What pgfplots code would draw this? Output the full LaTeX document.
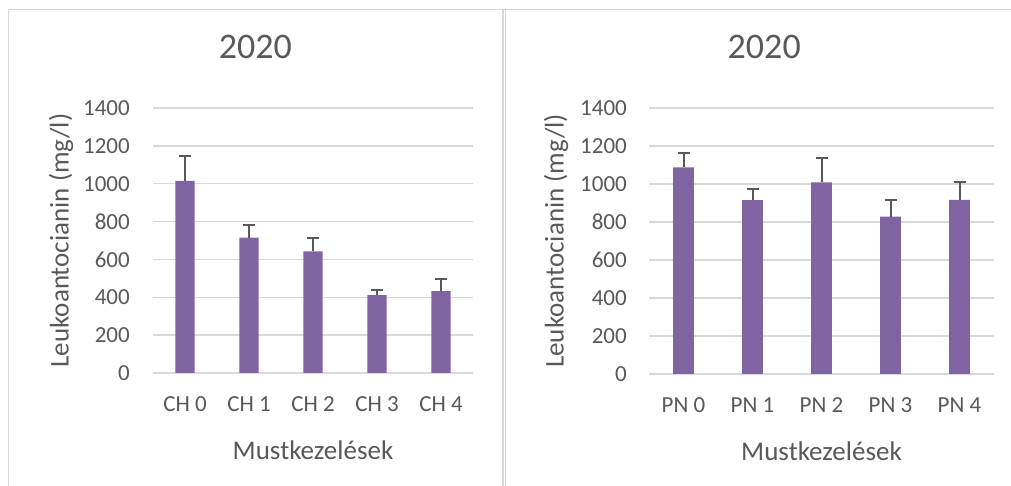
\documentclass[border=0pt]{standalone}
\usepackage{pgfplots}
\pgfplotsset{compat=1.18}
\usepackage{pgfplotstable}
\usepackage{fontspec}
\setmainfont{Carlito}
\definecolor{barpurple}{HTML}{8064A2}
\definecolor{txt}{HTML}{595959}
\definecolor{grd}{HTML}{D9D9D9}
\definecolor{errc}{HTML}{595959}

\pgfplotstableread{
x y e
0 1015 134
1 715 67
2 643 72
3 411 30
4 432 66
}\chdata
\pgfplotstableread{
x y e
0 1088 75
1 915 60
2 1008 129
3 828 86
4 917 93
}\pndata

\pgfplotsset{
 mystyle/.style={
  scale only axis, anchor=south west,
  xmin=-0.5, xmax=4.5, ymin=0, ymax=1400,
  ytick={0,200,...,1400},
  xtick={0,...,4},
  axis line style={draw=none},
  major tick length=0pt,
  ymajorgrids, grid style={grd, line width=1.3bp},
  tick label style={font=\fontsize{23bp}{27bp}\selectfont, text=txt, inner sep=0pt},
  yticklabel style={anchor=east, xshift=-23bp},
  xticklabel style={anchor=base, yshift=-39bp},
  /pgf/number format/assume math mode=true,
  /pgf/number format/1000 sep={},
  label style={font=\fontsize{27bp}{31bp}\selectfont, text=txt, inner sep=0pt},
  xlabel={Mustkezelések},
  ylabel={Leukoantocianin (mg/l)},
  xlabel style={at={([yshift=-86bp]axis description cs:0.5,0)}, anchor=base},
  ylabel style={at={([xshift=-92bp]axis description cs:0,0.5)}, anchor=center},
  title={2020},
  title style={font=\fontsize{36bp}{41bp}\selectfont, text=txt, inner sep=0pt, anchor=base},
  ybar, bar width=0.3,
 },
 mybars/.style={fill=barpurple, draw=none,
  error bars/.cd, y dir=plus, y explicit,
  error bar style={errc, line width=2bp},
  error mark options={errc, line width=2bp, rotate=90, mark size=6bp}},
}

\begin{document}
\begin{tikzpicture}
\useasboundingbox[fill=white] (0,0) rectangle (1011bp,486bp);
\draw[grd, line width=1.5bp] (8.5bp,0) -- (8.5bp,476.5bp) -- (1011bp,476.5bp);
\draw[grd, line width=1.5bp] (503bp,0) -- (503bp,476.5bp);
\draw[grd, line width=1.5bp] (505.5bp,0) -- (505.5bp,476.5bp);

\begin{axis}[mystyle, at={(153bp,113bp)}, width=320bp, height=265bp,
  xticklabels={CH 0, CH 1, CH 2, CH 3, CH 4},
  title style={at={([yshift=43.7bp]axis description cs:0.32,1)}}]
\addplot[mybars] table[x=x, y=y, y error=e] {\chdata};
\end{axis}

\begin{axis}[mystyle, at={(649bp,112bp)}, width=345bp, height=266bp,
  xticklabels={PN 0, PN 1, PN 2, PN 3, PN 4},
  ylabel style={at={([xshift=-93bp]axis description cs:0,0.5)}},
  yticklabel style={xshift=1bp},
  title style={at={([yshift=43.3bp]axis description cs:0.334,1)}}]
\addplot[mybars] table[x=x, y=y, y error=e] {\pndata};
\end{axis}
\end{tikzpicture}
\end{document}
